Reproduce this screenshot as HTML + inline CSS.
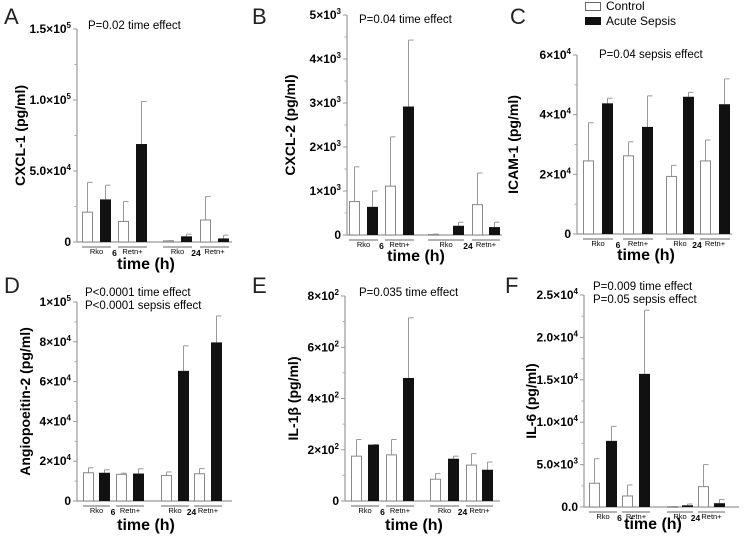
<!DOCTYPE html>
<html><head><meta charset="utf-8"><style>
body{margin:0;background:#fff;}
svg{display:block;font-family:"Liberation Sans",sans-serif;}
</style></head><body>
<svg id="c" width="750" height="536" viewBox="0 0 750 536">
<g>
<rect x="585.5" y="2.5" width="15" height="8" fill="#fff" stroke="#666"/>
<text x="606" y="10" font-size="12">Control</text>
<rect x="585" y="17" width="16" height="8" fill="#111"/>
<text x="606" y="25" font-size="12">Acute Sepsis</text>
</g>
</svg>
<script>
// Bar order: Rko6-ctrl, Rko6-sepsis, Retn6-ctrl, Retn6-sepsis, Rko24-ctrl, Rko24-sepsis, Retn24-ctrl, Retn24-sepsis
const categories = ["Rko 6h Control","Rko 6h Sepsis","Retn+ 6h Control","Retn+ 6h Sepsis","Rko 24h Control","Rko 24h Sepsis","Retn+ 24h Control","Retn+ 24h Sepsis"];
const valuesA = [21000,30000,14500,69000,800,4000,15500,2500];
const errA    = [42000,40000,28500,99000,900,5500,32000,4800];
const valuesB = [760,640,1110,2920,10,210,690,180];
const errB    = [1550,1000,2230,4430,20,290,1410,290];
const valuesC = [24500,43800,26200,35900,19300,46000,24500,43500];
const errC    = [37300,45500,30900,46300,23000,47500,31500,52000];
const valuesD = [14200,14200,13400,13800,12800,65400,13700,79700];
const errD    = [16700,15700,14000,16200,14600,78000,16300,93000];
const valuesE = [175,220,180,480,85,165,140,122];
const errE    = [240,220,240,715,107,175,185,152];
const valuesF = [2800,7800,1300,15700,30,200,2400,450];
const errF    = [5700,9500,2600,23200,60,350,5000,900];
const ticksA = [["0",""],["5.0×10","4"],["1.0×10","5"],["1.5×10","5"]];
const ticksB = [["0",""],["1×10","3"],["2×10","3"],["3×10","3"],["4×10","3"],["5×10","3"]];
const ticksC = [["0",""],["2×10","4"],["4×10","4"],["6×10","4"]];
const ticksD = [["0",""],["2×10","4"],["4×10","4"],["6×10","4"],["8×10","4"],["1×10","5"]];
const ticksE = [["0",""],["2×10","2"],["4×10","2"],["6×10","2"],["8×10","2"]];
const ticksF = [["0.0",""],["5.0×10","3"],["1.0×10","4"],["1.5×10","4"],["2.0×10","4"],["2.5×10","4"]];

const NS="http://www.w3.org/2000/svg";
const svg=document.getElementById('c');
function mk(tag,attrs,parent,txt){const e=document.createElementNS(NS,tag);for(const k in attrs)e.setAttribute(k,attrs[k]);if(txt!==undefined)e.textContent=txt;(parent||svg).appendChild(e);return e;}

const panels=[
 {id:'a',letter:'A',lx:4,ly:24,ax:77,y0:242,ytop:29,max:150000,vals:valuesA,errs:errA,ticks:ticksA,off:[5,23,41,59,86,104,123,141],title:'CXCL-1 (pg/ml)',tdx:-57,p:['P=0.02 time effect'],px:88,py:29,txo:27},
 {id:'b',letter:'B',lx:252,ly:24,ax:347,y0:235,ytop:15,max:5000,vals:valuesB,errs:errB,ticks:ticksB,off:[2,20,38,56,81,106,125,142],title:'CXCL-2 (pg/ml)',tdx:-57,p:['P=0.04 time effect'],px:359,py:23,txo:26},
 {id:'c',letter:'C',lx:510,ly:24,ax:577,y0:234,ytop:55,max:60000,vals:valuesC,errs:errC,ticks:ticksC,off:[6,25,46,65,89,106,123,142],title:'ICAM-1 (pg/ml)',tdx:-64,p:['P=0.04 sepsis effect'],px:599,py:58,txo:26},
 {id:'d',letter:'D',lx:4,ly:293,ax:77,y0:501,ytop:302,max:100000,vals:valuesD,errs:errD,ticks:ticksD,off:[6,22,39,56,84,101,117,134],title:'Angiopoeitin-2 (pg/ml)',tdx:-52,p:['P<0.0001 time effect','P<0.0001 sepsis effect'],px:85,py:296,txo:29},
 {id:'e',letter:'E',lx:252,ly:293,ax:345,y0:501,ytop:296,max:800,vals:valuesE,errs:errE,ticks:ticksE,off:[6,23,41,58,85,103,121,137],title:'IL-1β (pg/ml)',tdx:-52,p:['P=0.035 time effect'],px:359,py:296,txo:29},
 {id:'f',letter:'F',lx:505,ly:293,ax:584,y0:507,ytop:295,max:25000,vals:valuesF,errs:errF,ticks:ticksF,off:[5,22,38,55,83,98,114,130],title:'IL-6 (pg/ml)',tdx:-53,p:['P=0.009 time effect','P=0.05 sepsis effect'],px:593,py:290,txo:22}
];

panels.forEach(P=>{
 const g=mk('g',{});
 
 
 const y=v=>P.y0-(v/P.max)*(P.y0-P.ytop);
 const bw=11;
 const lt=mk('text',{x:P.lx,y:P.ly,'font-size':22,fill:'#222'},g,P.letter);
 
 
 const ya=mk('line',{x1:P.ax,x2:P.ax,y1:P.ytop,y2:P.y0,stroke:'#999','stroke-width':1.2},g);
 
 
 const n=P.ticks.length-1;
 for(let i=0;i<=n;i++){
  const tv=P.max*i/n, ty=y(tv);
  mk('line',{x1:P.ax-4,x2:P.ax,y1:ty,y2:ty,stroke:'#999'},g);
  if(i<n){const my=y(P.max*(i+0.5)/n);mk('line',{x1:P.ax-2.5,x2:P.ax,y1:my,y2:my,stroke:'#aaa'},g);}
  const t=mk('text',{x:P.ax-6,y:ty+4,'font-size':12,'font-weight':'bold','text-anchor':'end'},g);
  
  
  mk('tspan',{},t,P.ticks[i][0]);
  if(P.ticks[i][1]){mk('tspan',{'font-size':8,dy:-5},t,P.ticks[i][1]);}
 }
 const xa=mk('line',{x1:P.ax,x2:P.ax+155,y1:P.y0,y2:P.y0,stroke:'#999','stroke-width':1.2},g);
 
 
 P.vals.forEach((v,i)=>{
  const x=P.ax+P.off[i], ctrl=i%2===0;
  const cx=x+bw/2, ey=y(P.errs[i]), by=y(v);
  const el=mk('line',{x1:cx,x2:cx,y1:ey,y2:by,stroke:'#999','stroke-width':1},g);
  
  
  mk('line',{x1:cx,x2:cx+5,y1:ey,y2:ey,stroke:'#999','stroke-width':1},g);
  const r=mk('rect',{x:ctrl?x+0.5:x,y:by,width:ctrl?bw-1:bw,height:Math.max(P.y0-by,0.5),fill:ctrl?'#fff':'#111',stroke:ctrl?'#888':'none','stroke-width':1},g);
  
  
 });
 const grp=[['Rko',0],['Retn+',2],['Rko',4],['Retn+',6]];
 grp.forEach(([lab,i])=>{
  const x1=P.ax+P.off[i], x2=P.ax+P.off[i+1]+bw;
  mk('line',{x1:x1,x2:x2,y1:P.y0+5,y2:P.y0+5,stroke:'#666'},g);
  const t=mk('text',{x:(x1+x2)/2,y:P.y0+12,'font-size':7.5,'text-anchor':'middle'},g,lab);
  
  
 });
 [['6',1],['24',5]].forEach(([lab,i])=>{
  const xm=(P.ax+P.off[i]+bw+P.ax+P.off[i+1])/2;
  const t=mk('text',{x:xm,y:P.y0+14,'font-size':8.5,'font-weight':'bold','text-anchor':'middle'},g,lab);
  
  
 });
 const xt=mk('text',{x:P.ax+69,y:P.y0+P.txo,'font-size':16,'font-weight':'bold','text-anchor':'middle'},g,'time  (h)');
 
 
 xt.setAttribute('xml:space','preserve');
 const cy=(P.ytop+P.y0)/2, tx=P.ax+P.tdx;
 const yt=mk('text',{x:tx,y:cy,'font-size':14,'font-weight':'bold','text-anchor':'middle',transform:`rotate(-90 ${tx} ${cy})`,dy:5},g,P.title);
 
 
 P.p.forEach((s,k)=>{
  const pt=mk('text',{x:P.px,y:P.py+k*13,'font-size':11.5},g,s);
  
  
 });
});
</script>
</body></html>
